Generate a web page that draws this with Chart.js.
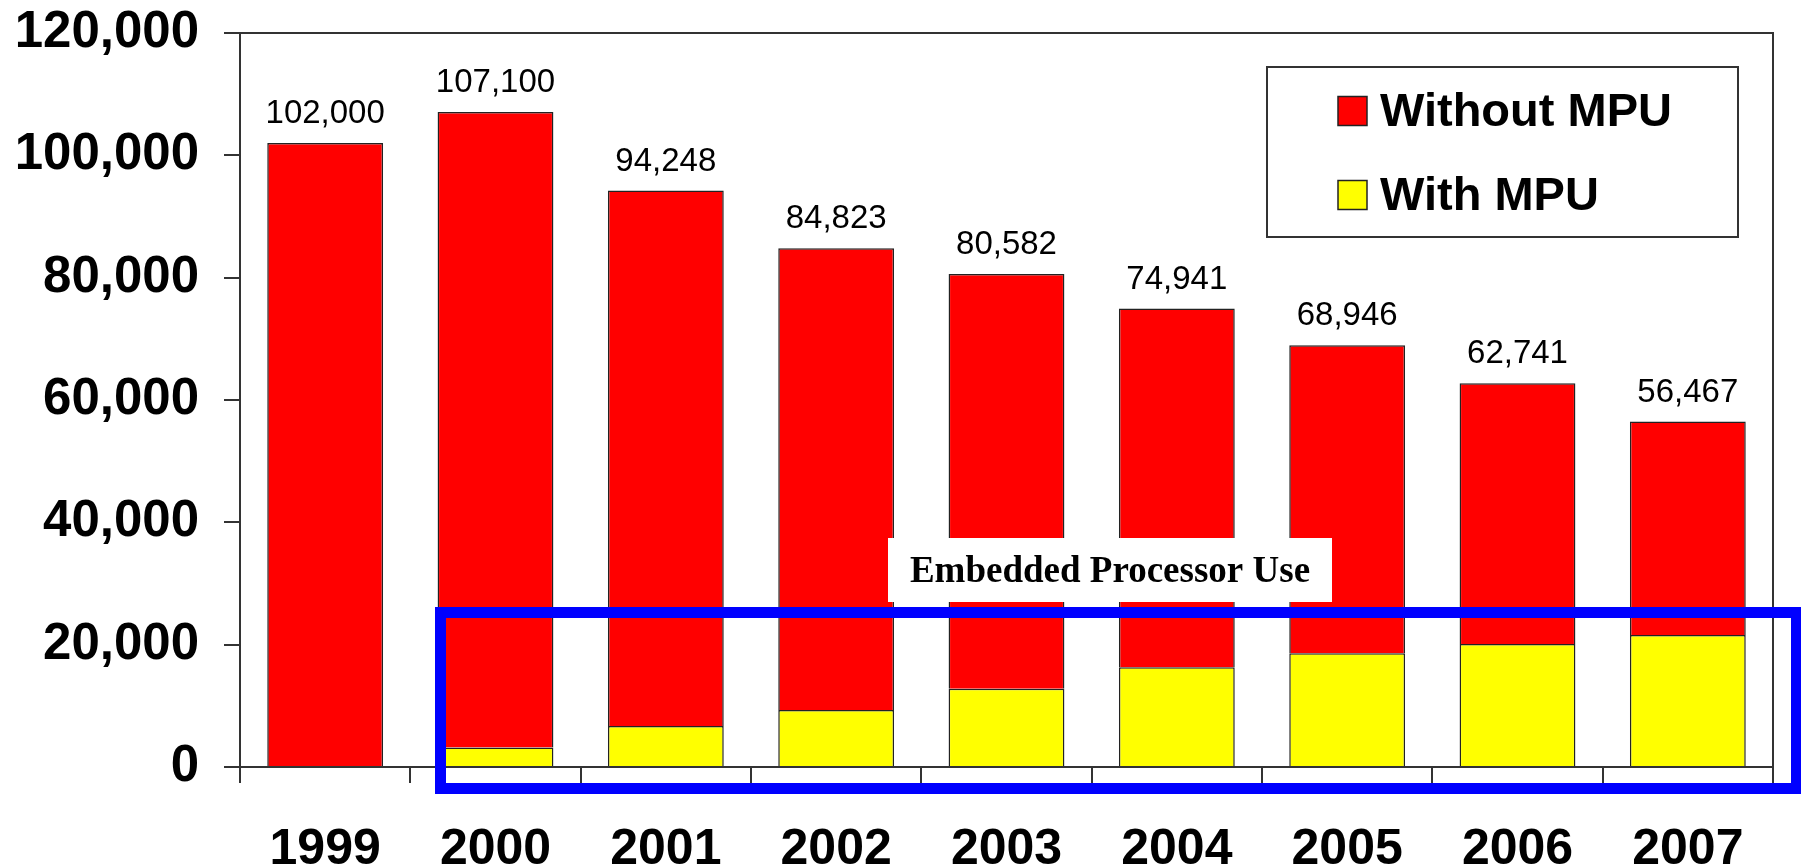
<!DOCTYPE html>
<html>
<head>
<meta charset="utf-8">
<title>Embedded Processor Use</title>
<script src="https://cdn.jsdelivr.net/npm/chart.js"></script>
<style>
  html, body { margin: 0; padding: 0; background: #fff; }
</style>
</head>
<body>
<canvas id="grafico" width="1801" height="866"></canvas>

<script>
  // dados
  const anos = ['1999', '2000', '2001', '2002', '2003', '2004', '2005', '2006', '2007'];
  const comMPU = [0, 3200, 6700, 9300, 12800, 16300, 18600, 20100, 21600];
  const semMPU = [102000, 103900, 87548, 75523, 67782, 58641, 50346, 42641, 34867];
  const yMax = 120000;
  const yPasso = 20000;

  const fonte = "'Liberation Sans', Arial, sans-serif";

  // moldura de cima e da direita
  const moldura = {
    id: 'moldura',
    afterDraw(chart) {
      const { ctx, chartArea: a } = chart;
      ctx.save();
      ctx.strokeStyle = '#333';
      ctx.lineWidth = 2;
      ctx.beginPath();
      ctx.moveTo(a.left, a.top);
      ctx.lineTo(a.right, a.top);
      ctx.lineTo(a.right, a.bottom);
      ctx.stroke();
      ctx.restore();
    }
  };

  // totais em cima das barras
  const totais = {
    id: 'totais',
    afterDatasetsDraw(chart) {
      const ctx = chart.ctx;
      const barras = chart.getDatasetMeta(1).data;
      ctx.save();
      ctx.font = '33px ' + fonte;
      ctx.fillStyle = '#000';
      ctx.textAlign = 'center';
      ctx.textBaseline = 'alphabetic';
      barras.forEach((b, i) => {
        const total = comMPU[i] + semMPU[i];
        ctx.fillText(total.toLocaleString('en-US'), b.x, b.y - 20);
      });
      ctx.restore();
    }
  };

  // legenda com caixa e a marcacao azul
  const extras = {
    id: 'extras',
    afterDraw(chart) {
      const ctx = chart.ctx;
      const ds = chart.data.datasets;
      ctx.save();

      // caixa "Embedded Processor Use"
      ctx.fillStyle = '#fff';
      ctx.fillRect(888, 538, 444, 64);
      ctx.fillStyle = '#000';
      ctx.font = "bold 37px 'Liberation Serif', 'Times New Roman', serif";
      ctx.textAlign = 'center';
      ctx.textBaseline = 'middle';
      ctx.fillText('Embedded Processor Use', 1110, 572);

      // retangulo azul
      ctx.strokeStyle = '#0000ff';
      ctx.lineWidth = 11;
      ctx.strokeRect(440.5, 612.5, 1356, 176);

      // legenda
      ctx.fillStyle = '#fff';
      ctx.fillRect(1267, 67, 471, 170);
      ctx.strokeStyle = '#333';
      ctx.lineWidth = 2;
      ctx.strokeRect(1267, 67, 471, 170);
      const itens = [ds[1], ds[0]];
      ctx.font = 'bold 47px ' + fonte;
      ctx.textAlign = 'left';
      ctx.textBaseline = 'middle';
      itens.forEach((d, i) => {
        const y = 111 + i * 84;
        ctx.fillStyle = d.backgroundColor;
        ctx.fillRect(1338, y - 14.5, 29, 29);
        ctx.strokeStyle = '#222';
        ctx.lineWidth = 1.5;
        ctx.strokeRect(1338, y - 14.5, 29, 29);
        ctx.fillStyle = '#000';
        ctx.fillText(d.label, 1380, y + 2);
      });
      ctx.restore();
    }
  };

  new Chart(document.getElementById('grafico'), {
    type: 'bar',
    data: {
      labels: anos,
      datasets: [
        {
          label: 'With MPU',
          data: comMPU,
          backgroundColor: '#ffff00',
          borderColor: '#222',
          borderWidth: 1.5,
          categoryPercentage: 1,
          barPercentage: 0.68
        },
        {
          label: 'Without MPU',
          data: semMPU,
          backgroundColor: '#ff0000',
          borderColor: '#222',
          borderWidth: 1.5,
          categoryPercentage: 1,
          barPercentage: 0.68
        }
      ]
    },
    options: {
      responsive: false,
      animation: false,
      layout: { padding: { top: 33, right: 28, left: 0, bottom: 0 } },
      plugins: {
        legend: { display: false },
        tooltip: { enabled: false }
      },
      scales: {
        x: {
          stacked: true,
          offset: true,
          afterFit: s => { s.height = 99; s.paddingLeft = 0; s.paddingRight = 0; },
          grid: { offset: true, drawOnChartArea: false, drawTicks: true, tickLength: 16, color: '#333', lineWidth: 2 },
          border: { display: true, color: '#333', width: 2 },
          ticks: { color: '#000', padding: 37, maxRotation: 0, font: { family: fonte, size: 50, weight: 'bold' } }
        },
        y: {
          stacked: true,
          min: 0,
          max: yMax,
          afterFit: s => { s.width = 240; s.paddingTop = 0; s.paddingBottom = 0; },
          grid: { drawOnChartArea: false, drawTicks: true, tickLength: 16, color: '#333', lineWidth: 2 },
          border: { display: true, color: '#333', width: 2 },
          ticks: {
            stepSize: yPasso,
            color: '#000',
            padding: 25,
            font: { family: fonte, size: 51, weight: 'bold' },
            callback: v => v.toLocaleString('en-US')
          }
        }
      }
    },
    plugins: [moldura, totais, extras]
  });
</script>
</body>
</html>
